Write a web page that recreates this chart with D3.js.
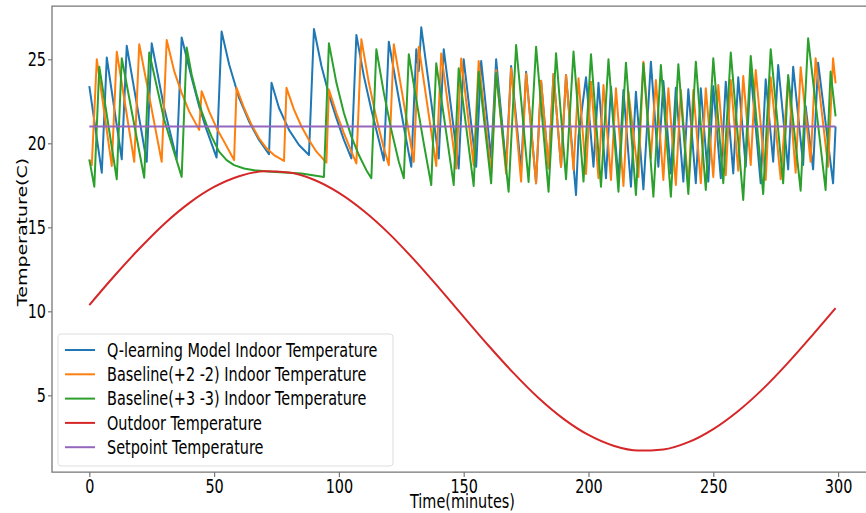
<!DOCTYPE html>
<html lang="en">
<head>
<meta charset="UTF-8">
<title>Indoor temperature control</title>
<script src="https://d3js.org/d3.v7.min.js"></script>
<style>
  body { margin: 0; background: #fff; }
  text { font-family: "DejaVu Sans", sans-serif; fill: #000; }
</style>
</head>
<body>
<svg width="866" height="513"></svg>
<script>
// ---- data: [minute, temperature] ----
const xTicks = [0, 50, 100, 150, 200, 250, 300];
const yTicks = [5, 10, 15, 20, 25];
const seriesNames = [
    "Q-learning Model Indoor Temperature",
    "Baseline(+2 -2) Indoor Temperature",
    "Baseline(+3 -3) Indoor Temperature",
    "Outdoor Temperature",
    "Setpoint Temperature"
];
const seriesColors = ["#1f77b4", "#ff7f0e", "#2ca02c", "#d62728", "#9467bd"];

const qLearning = [[0,23.4],[5,18.25],[7,25.1],[13,19.05],[15,25.8],[23,18.9],[25,25.95],[30,22.1],[35,19.05],[37,26.3],
    [41,23.9],[44,22.2],[47,20.8],[51,19.15],[53,26.65],[56,24.7],[60,22.7],[64,21.3],[68,20.2],[72,19.35],[73,23.6],
    [76,22.1],[80,20.8],[84,19.9],[88,19.3],[90,26.8],[93,24.6],[96,22.9],[99,21.5],[102,20.2],[105,19.1],[107,26.45],
    [110,24.0],[113,22.0],[116,20.2],[118,18.97],[120,26.05],[123,23.5],[126,21.0],[129,18.6],[131,25.6],[132,24.3],
    [133,26.9],[140,19.1],[142,25.6],[148,18.5],[150,25.0],[155,18.6],[157,24.9],[161,19.1],[163,25.0],[167,18.6],
    [169,24.6],[173,18.4],[175,24.26],[179,17.62],[181,23.73],[184,18.51],[186,24.13],[189,18.61],[191,24.07],
    [195,16.92],[196,20.4],[199,23.93],[202,18.61],[204,23.6],[207,17.92],[209,23.37],[212,17.82],[214,23.17],
    [217,17.42],[219,23.07],[222,17.26],[225,24.86],[228,18.61],[230,23.71],[233,18.2],[235,23.3],[238,17.72],
    [240,23.21],[243,17.62],[245,23.27],[248,17.72],[250,23.4],[253,17.92],[255,23.67],[258,18.21],[260,23.93],
    [263,18.61],[265,24.27],[269,17.62],[271,23.81],[274,18.9],[276,24.66],[280,18.45],[282,24.56],[286,18.71],
    [287,22.22],[290,18.45],[292,24.8],[298,17.62],[299,21.0]];

const baseline2 = [[0,19.0],[1,18.7],[3,25.0],[9,18.65],[11,25.45],[18,18.9],[20,25.9],[29,18.9],[31,26.15],[34,24.3],
    [37,23.0],[40,21.9],[44,20.8],[45,23.1],[48,21.9],[51,20.9],[54,20.1],[58,19.0],[59,23.3],[62,22.1],[65,21.1],
    [68,20.3],[71,19.7],[74,19.3],[78,18.95],[79,23.3],[82,22.0],[85,21.0],[88,20.2],[91,19.5],[95,18.85],[96,23.2],
    [99,21.8],[102,20.6],[105,19.5],[107,18.8],[109,26.2],[112,23.6],[115,21.5],[118,19.7],[120,18.7],[122,25.9],
    [130,18.9],[132,25.75],[139,18.65],[141,25.35],[147,18.5],[149,25.05],[154,18.7],[156,24.9],[161,18.2],
    [163,24.36],[167,18.2],[169,24.46],[173,17.72],[175,24.16],[179,17.62],[181,23.73],[184,18.51],[186,24.13],
    [189,18.61],[191,24.07],[194,18.41],[196,23.87],[199,18.17],[201,23.67],[204,17.92],[206,23.47],[209,17.82],
    [211,23.27],[214,17.46],[216,23.07],[220,18.0],[222,24.86],[225,19.1],[227,23.77],[230,17.82],[232,23.27],
    [235,17.52],[237,23.17],[240,17.42],[242,23.17],[245,17.62],[247,23.27],[250,18.0],[252,23.47],[255,18.1],
    [257,23.77],[260,18.37],[262,24.0],[265,18.71],[267,24.36],[271,17.82],[273,23.93],[277,17.86],[280,23.9],
    [283,18.25],[285,24.52],[289,18.9],[291,25.06],[296,18.61],[298,25.06],[299,23.57]];

const baseline3 = [[0,19.04],[2,17.42],[4,24.56],[11,17.86],[13,25.06],[22,17.95],[24,25.4],[30,21.4],[37,18.0],
    [39,25.7],[41,24.1],[43,22.9],[45,21.9],[47,21.1],[49,20.4],[52,19.5],[55,19.0],[58,18.7],[62,18.5],[66,18.4],
    [73,18.3],[85,18.2],[94,18.0],[96,25.95],[99,23.6],[102,21.8],[105,20.4],[108,19.3],[111,18.4],[113,17.92],
    [115,25.6],[118,23.0],[121,20.8],[124,18.9],[126,17.92],[128,25.3],[131,22.6],[134,20.0],[137,17.52],[139,24.76],
    [146,17.52],[148,24.46],[154,17.46],[156,24.26],[161,17.62],[163,24.2],[168,17.12],[171,25.85],[176,17.7],
    [179,25.75],[184,17.12],[187,25.36],[191,17.86],[194,25.46],[198,17.72],[201,25.3],[205,17.42],[208,25.0],
    [212,17.12],[215,24.8],[219,16.92],[222,24.76],[226,16.82],[229,24.66],[233,16.82],[236,24.7],[240,16.98],
    [243,24.86],[247,17.22],[250,25.06],[254,17.62],[257,25.4],[262,16.63],[265,25.2],[270,16.98],[273,25.6],
    [278,17.62],[280,24.07],[285,17.18],[288,26.25],[295,17.22],[297,24.27],[299,21.6]];

const outdoor = [[0,10.37],[10,12.1],[20,13.72],[30,15.2],[40,16.44],[50,17.4],[60,18.04],[70,18.33],[80,18.26],
    [90,17.83],[100,17.05],[110,15.97],[120,14.64],[130,13.09],[140,11.41],[150,9.67],[160,7.95],[170,6.32],
    [180,4.84],[190,3.6],[200,2.64],[210,2.0],[220,1.71],[230,1.78],[240,2.21],[250,2.99],[260,4.07],[270,5.4],
    [280,6.95],[290,8.63],[299,10.19]];

const setpoint = [[0,21],[299,21]];

const series = [qLearning, baseline2, baseline3, outdoor, setpoint];

// ---- layout ----
const svg = d3.select("svg");
const sx = 0.76;              // picture was squeezed horizontally
const fs = 19;
const pLeft = 52, pTop = 6.2, pBottom = 472.1, pRight = 872.9;

const x = d3.scaleLinear().domain([-14.95, 313.95]).range([pLeft, pRight]);
const y = d3.scaleLinear().domain([0.43, 28.16]).range([pBottom, pTop]);

svg.append("clipPath").attr("id", "plot")
    .append("rect").attr("x", pLeft).attr("y", pTop)
    .attr("width", pRight - pLeft).attr("height", pBottom - pTop);

const line = d3.line().x(d => x(d[0])).y(d => y(d[1]));
const smooth = d3.line().x(d => x(d[0])).y(d => y(d[1])).curve(d3.curveMonotoneX);

const g = svg.append("g").attr("clip-path", "url(#plot)");
series.forEach(function (s, i) {
    g.append("path")
        .datum(s)
        .attr("d", i === 3 ? smooth : line)
        .attr("fill", "none")
        .attr("stroke", seriesColors[i])
        .attr("stroke-width", 2)
        .attr("stroke-linejoin", "round");
});

// axes
const xAxis = svg.append("g")
    .attr("transform", `translate(0,${pBottom})`)
    .call(d3.axisBottom(x).tickValues(xTicks).tickSize(5).tickPadding(2).tickFormat(d3.format("d")));
const yAxis = svg.append("g")
    .attr("transform", `translate(${pLeft},0)`)
    .call(d3.axisLeft(y).tickValues(yTicks).tickSize(4).tickPadding(2).tickFormat(d3.format("d")));

[xAxis, yAxis].forEach(a => {
    a.select(".domain").remove();
    a.selectAll(".tick line").attr("stroke", "#777").attr("stroke-width", 1.2);
    a.selectAll(".tick text").attr("font-size", fs).attr("font-family", "DejaVu Sans").attr("fill", "#000");
});
xAxis.selectAll(".tick text").attr("transform", `scale(${sx},1)`);
yAxis.selectAll(".tick text").attr("x", -6 / sx).attr("transform", `scale(${sx},1)`);

// spines
svg.append("path")
    .attr("d", `M${pRight},${pTop}H${pLeft}V${pBottom}H${pRight}`)
    .attr("fill", "none").attr("stroke", "#777").attr("stroke-width", 1.3);

// axis labels
svg.append("text")
    .attr("transform", `translate(${(pLeft + pRight) / 2},508) scale(${sx},1)`)
    .attr("text-anchor", "middle").attr("font-size", fs)
    .text("Time(minutes)");
svg.append("text")
    .attr("transform", `translate(27,232) rotate(-90) scale(1,${sx})`)
    .attr("text-anchor", "middle").attr("font-size", fs)
    .text("Temperature(C)");

// legend
const legend = svg.append("g");
legend.append("rect")
    .attr("x", 58).attr("y", 334).attr("width", 335).attr("height", 132)
    .attr("rx", 3).attr("fill", "#fff").attr("fill-opacity", 0.8)
    .attr("stroke", "#ddd");
seriesNames.forEach(function (name, i) {
    const yy = 350 + i * 24.3;
    legend.append("line")
        .attr("x1", 65).attr("x2", 95).attr("y1", yy).attr("y2", yy)
        .attr("stroke", seriesColors[i]).attr("stroke-width", 2);
    legend.append("text")
        .attr("transform", `translate(107,${yy}) scale(${sx},1)`)
        .attr("dy", "0.35em").attr("font-size", fs)
        .text(name);
});
</script>
</body>
</html>
